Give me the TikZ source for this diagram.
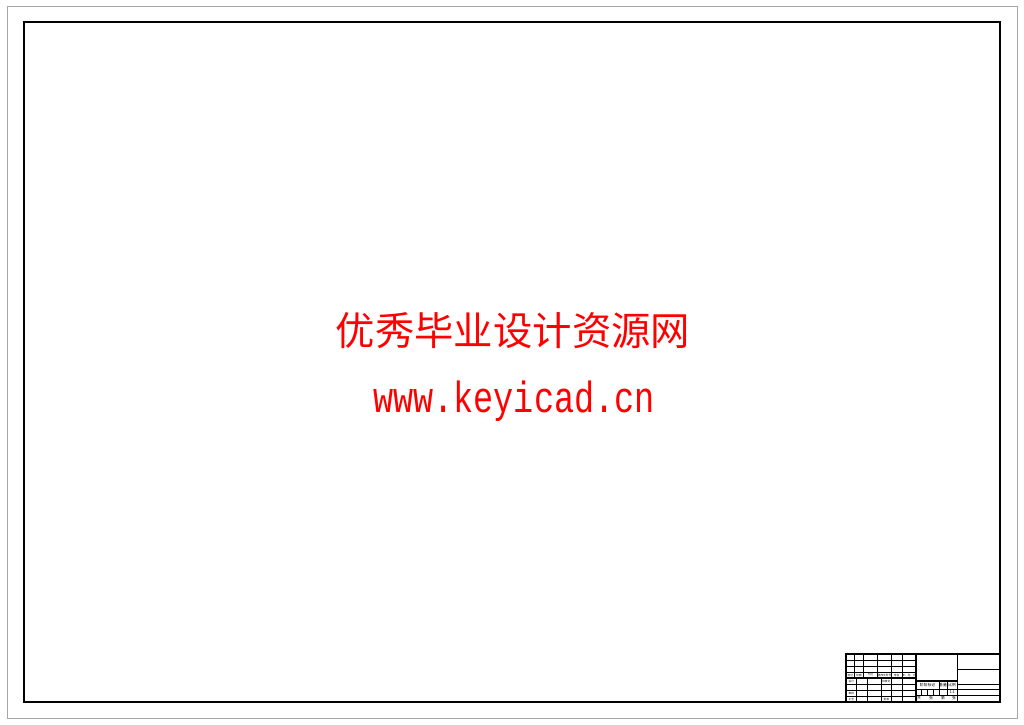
\documentclass[tikz,border=0pt]{standalone}
\usepackage{fontspec}
\newfontfamily\cjkfont{Noto Sans CJK SC}
\newfontfamily\urlfont[FakeStretch=0.77]{Liberation Mono}

\tikzset{
  sheet/.style={gray!70, line width=0.7pt},
  frame/.style={line width=1.4pt},
  thin rule/.style={line width=0.5pt},
  bold rule/.style={line width=1.0pt},
  tb small/.style={font=\cjkfont\fontsize{1.9}{2}\selectfont, inner sep=0pt},
  tb text/.style={font=\cjkfont\fontsize{2.7}{3}\selectfont, inner sep=0pt},
}

\begin{document}
\begin{tikzpicture}[x=0.025cm, y=-0.025cm]
\useasboundingbox (0,0) rectangle (1024,724);

% Sheet edge & drawing frame
\draw[sheet] (7,6) rectangle (1017,718);
\draw[frame] (24,22) rectangle (999.5,702);

% Watermark text
\node[red, font=\cjkfont\fontsize{28}{30}\selectfont, inner sep=0pt] (siteName) at (513,331) {优秀毕业设计资源网};
\node[red, font=\urlfont\fontsize{31}{33}\selectfont, inner sep=0pt, anchor=base] (siteUrl) at (514,412) {www.keyicad.cn};

% Title block: outline and zone borders
\draw[frame] (846,654) rectangle (999.5,702);
\draw[bold rule] (916,654) -- (916,702);
\draw[bold rule] (957.3,654) -- (957.3,702);

% Left zone: change record rows (upper) and signature rows (lower)
\foreach \y in {660,666,672,684,690,696}
  \draw[thin rule] (846,\y) -- (916,\y);
\draw[bold rule] (846,678) -- (916,678);
\foreach \x in {854.75,863.5,877.5,891.5,902}
  \draw[thin rule] (\x,654) -- (\x,678);
\foreach \x in {856.5,867,881,891.5,902}
  \draw[thin rule] (\x,678) -- (\x,702);

% Middle zone: stage / weight / scale
\draw[bold rule] (916,681) -- (957.3,681);
\draw[thin rule] (916,689) -- (957.3,689);
\draw[thin rule] (916,695) -- (957.3,695);
\foreach \x in {939,947}
  \draw[thin rule] (\x,681) -- (\x,695);
\foreach \x in {921.75,927.5,933.25}
  \draw[thin rule] (\x,689) -- (\x,695);

% Right zone: name / drawing number
\foreach \y in {669,684,689.5,695}
  \draw[thin rule] (957.3,\y) -- (999.5,\y);

% Title block labels
\node[tb small] (tbMark)   at (850.4,675) {标记};
\node[tb small] (tbCount)  at (859.1,675) {处数};
\node[tb small] (tbZone)   at (870.5,675) {分区};
\node[tb small] (tbDocNo)  at (884.5,675) {更改文件号};
\node[tb small] (tbSign)   at (896.75,675) {签名};
\node[tb small] (tbDate)   at (909,675) {年、月、日};
\node[tb small] (tbDesign) at (851.25,681) {设计};
\node[tb small] (tbStd)    at (886.25,681) {标准化};
\node[tb small] (tbCheck)  at (851.25,693) {审核};
\node[tb small] (tbCraft)  at (851.25,699) {工艺};
\node[tb small] (tbApprove) at (886.25,699) {批准};
\node[tb text] (tbStage)  at (927.5,685) {阶段标记};
\node[tb text] (tbWeight) at (943,685) {重量};
\node[tb text] (tbScale)  at (952.15,685) {比例};
\node[tb text] (tbRatio)  at (952.15,692) {1:1};
\node[tb text] (tbTotal)  at (919,698.5) {共};
\node[tb text] (tbSheetA) at (931,698.5) {张};
\node[tb text] (tbNth)    at (943,698.5) {第};
\node[tb text] (tbSheetB) at (954,698.5) {张};

\end{tikzpicture}
\end{document}
